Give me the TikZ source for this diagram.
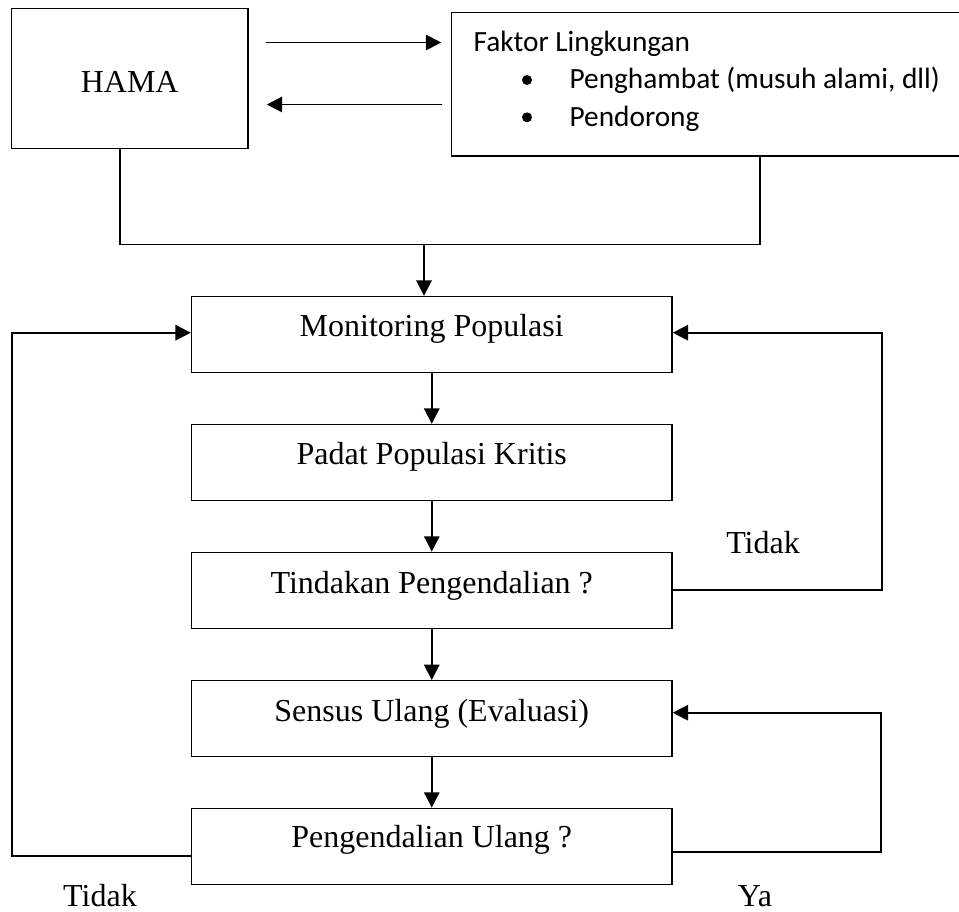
\documentclass[tikz,border=0pt]{standalone}
\usepackage{fontspec}
\setmainfont{Liberation Serif}
\newfontfamily\calibrifont{Carlito}
\usetikzlibrary{arrows.meta}
\begin{document}
\begin{tikzpicture}[x=0.75pt,y=-0.75pt,
  box/.style={draw, line width=1.05pt, inner sep=0, minimum width=360.4pt, minimum height=57pt},
  lbl/.style={anchor=base, inner sep=0, font=\fontsize{24}{28}\selectfont},
  ctext/.style={anchor=base west, inner sep=0, font=\calibrifont\fontsize{22}{26}\selectfont},
  bul/.style={circle, fill, inner sep=0, minimum size=7.5pt},
  conn/.style={line width=1.4pt},
  arr/.style={conn, -{Triangle[length=11.5pt,width=11.5pt]}}]
\useasboundingbox (0,0) rectangle (959,911);
\clip (0,0) rectangle (959,911);

% top boxes
\node[draw, line width=1.05pt, inner sep=0, minimum width=177.5pt, minimum height=105pt] (hama) at (129.7,78.3) {};
\node[lbl] (hamat) at (129.7,92.3) {HAMA};
\node[draw, line width=1.05pt, inner sep=0, minimum width=389pt, minimum height=107.8pt] (fak) at (710.6,84.15) {};
\node[ctext] (ft) at (473.3,51) {Faktor Lingkungan};
\node[bul] (b1) at (527,80) {};
\node[bul] (b2) at (527,117.3) {};
\node[ctext] (f1) at (569.3,88.3) {Penghambat (musuh alami, dll)};
\node[ctext] (f2) at (569.3,126) {Pendorong};

% flow boxes
\node[box] (mon) at (431.75,334.5) {};
\node[lbl] (mont) at (431.75,336) {Monitoring Populasi};
\node[box] (pad) at (431.75,462.5) {};
\node[lbl] (padt) at (431.75,464.3) {Padat Populasi Kritis};
\node[box] (tin) at (431.75,590.3) {};
\node[lbl] (tint) at (431.75,593.3) {Tindakan Pengendalian ?};
\node[box] (sen) at (431.75,718.7) {};
\node[lbl] (sent) at (431.75,721.7) {Sensus Ulang (Evaluasi)};
\node[box] (pen) at (431.75,846.3) {};
\node[lbl] (pent) at (431.75,847.3) {Pengendalian Ulang ?};

% labels
\node[lbl] (tidak1) at (763,553) {Tidak};
\node[lbl] (tidak2) at (100,906) {Tidak};
\node[lbl] (ya) at (755,906) {Ya};

% HAMA <-> Faktor
\coordinate (a1) at (350,42.5);
\coordinate (a2) at (350,104.5);
\draw[arr, shorten <=12.75pt, shorten >=7pt] (hama.east |- a1) -- (fak.west |- a1);
\draw[arr, shorten <=6.2pt, shorten >=13.5pt] (fak.west |- a2) -- (hama.east |- a2);

% merge into monitoring
\coordinate (hb) at (119.7,244.5);
\coordinate (fb) at (760,244.5);
\coordinate (j) at (424,244.5);
\draw[conn] (hama.south -| hb) -- (hb) -- (fb) -- (fak.south -| fb);
\draw[arr] (j) -- (mon.north -| j);

% main chain
\draw[arr] (mon.south) -- (pad.north);
\draw[arr] (pad.south) -- (tin.north);
\draw[arr] (tin.south) -- (sen.north);
\draw[arr] (sen.south) -- (pen.north);

% left loop (Tidak)
\coordinate (lb) at (11.7,855.7);
\coordinate (lt) at (11.7,332.7);
\draw[arr] (pen.west |- lb) -- (lb) -- (lt) -- (mon.west |- lt);

% right loop (Tidak)
\coordinate (rb) at (882,590);
\coordinate (rt) at (882,332.7);
\draw[arr] (tin.east |- rb) -- (rb) -- (rt) -- (mon.east |- rt);

% Ya loop
\coordinate (yb) at (881,852.3);
\coordinate (yt) at (881,712.7);
\draw[arr] (pen.east |- yb) -- (yb) -- (yt) -- (sen.east |- yt);
\end{tikzpicture}
\end{document}
